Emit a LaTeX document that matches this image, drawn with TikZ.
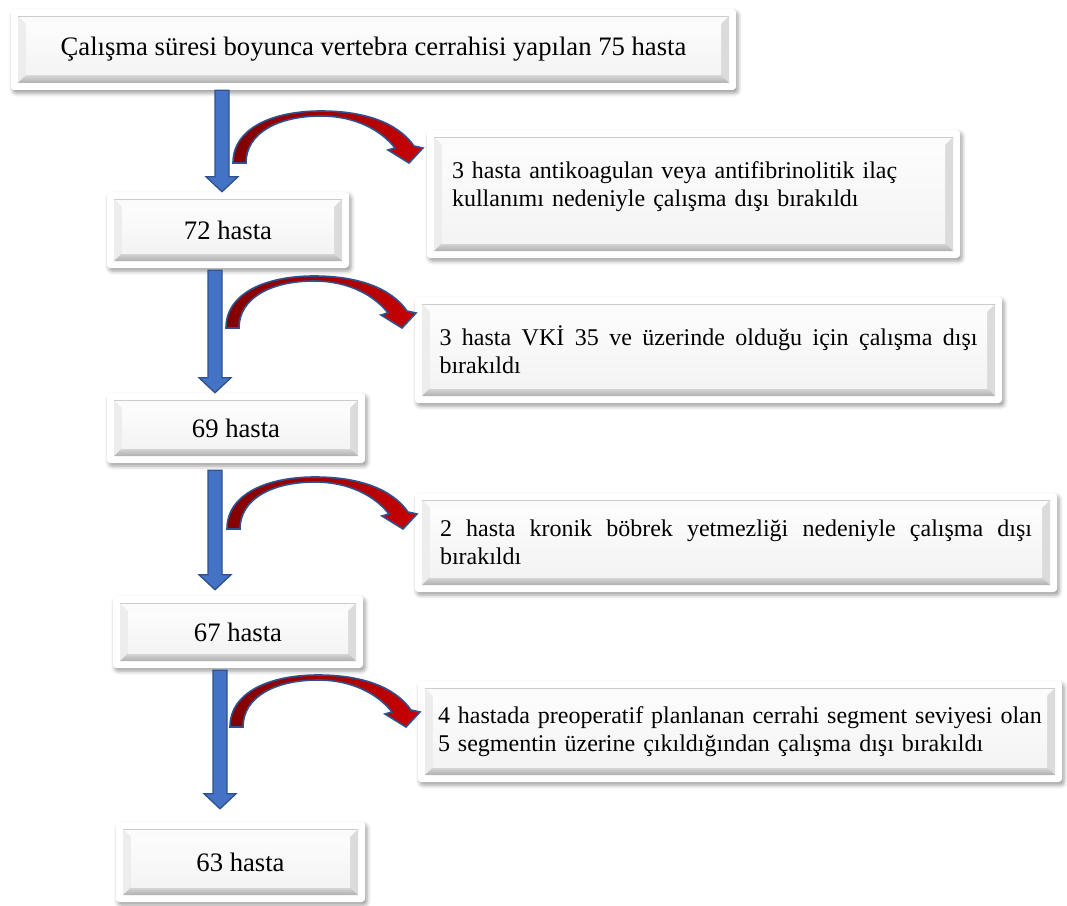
\documentclass[tikz,border=0pt]{standalone}
\usepackage{fontspec}
\setmainfont{Liberation Serif}
\usetikzlibrary{calc}
\usetikzlibrary{shadows.blur}
\usetikzlibrary{positioning}
\definecolor{bfill}{RGB}{68,114,196}
\definecolor{bborder}{RGB}{47,82,143}
\definecolor{rfill}{RGB}{200,0,0}
\definecolor{rdark}{RGB}{130,0,0}
\tikzset{panel/.style={rectangle,rounded corners=2.5pt,fill=white,inner sep=0pt,
  blur shadow={shadow xshift=1.5pt,shadow yshift=-2.25pt,shadow blur radius=3pt,shadow opacity=40},
  path picture={
    \coordinate (oNW) at ([shift={(5.25pt,-5.25pt)}]path picture bounding box.north west);
    \coordinate (oSE) at ([shift={(-5.25pt,5.25pt)}]path picture bounding box.south east);
    \coordinate (iNW) at ([shift={(6pt,-6pt)}]oNW);
    \coordinate (iSE) at ([shift={(-6pt,6pt)}]oSE);
    \fill[sharp corners,gray!3] (oNW) -- (oNW -| oSE) -- (iNW -| iSE) -- (iNW) -- cycle;
    \fill[sharp corners,gray!14] (oNW) -- (iNW) -- (iNW |- iSE) -- (oNW |- oSE) -- cycle;
    \fill[sharp corners,gray!28] (oSE) -- (oNW -| oSE) -- (iNW -| iSE) -- (iSE) -- cycle;
    \shade[sharp corners,top color=gray!30,bottom color=gray!62] (oNW |- oSE) -- (iNW |- iSE) -- (iSE) -- (oSE) -- cycle;
    \shade[sharp corners,top color=gray!2,bottom color=gray!9] (iNW) rectangle (iSE);
    \draw[sharp corners,gray!40,line width=0.5pt] (oNW) -- (oNW -| oSE);
  }}}
\tikzset{tally/.style={panel,font=\fontsize{20}{24}\selectfont}}
\tikzset{excl/.style={panel,font=\fontsize{18}{21}\selectfont,align=justify,inner xsep=18.75pt}}
\tikzset{bluearrow/.style={fill=bfill,draw=bborder,line width=1pt,
  to path={let \p1=(\tikztostart), \p2=(\tikztotarget) in
    (\x1-5.25pt,\y1) -- (\x1+5.25pt,\y1) -- (\x1+5.25pt,\y2+11.25pt) -- (\x1+12pt,\y2+11.25pt)
    -- (\x1,\y2) -- (\x1-12pt,\y2+11.25pt) -- (\x1-5.25pt,\y2+11.25pt) -- cycle}}}
\tikzset{swoop/.pic={
  \draw[bborder,line width=1.2pt,left color=rdark,right color=rfill]
    (0,0) -- (13,0) .. controls (13,-30) and (45,-47) .. (88,-47)
    .. controls (122,-47) and (148,-33) .. (162,-15) -- (155,-13) -- (176,0) -- (190,-15) -- (181,-17)
    .. controls (165,-40) and (132,-52) .. (88,-52) .. controls (40,-52) and (0,-35) .. (0,0) -- cycle;
  }}

\begin{document}
\begin{tikzpicture}[x=0.75pt,y=-0.75pt]
\useasboundingbox (0,0) rectangle (1067,906);

% left column
\node[tally, minimum width=543.75pt, minimum height=60.75pt] (n75) at (373.5,49.5) {Çalışma süresi boyunca vertebra cerrahisi yapılan 75 hasta};
\node[tally, minimum width=181.5pt, minimum height=57pt] (n72) at (228,230) {72 hasta};
\node[tally, minimum width=193.5pt, minimum height=52.5pt] (n69) at (236,428) {69 hasta};
\node[tally, minimum width=187.5pt, minimum height=54pt] (n67) at (238,632) {67 hasta};
\node[tally, minimum width=186.75pt, minimum height=60pt] (n63) at (240.5,862) {63 hasta};

% exclusions
\node[excl, align=left, text width=362.25pt, minimum width=399.75pt, minimum height=96pt] (x1) at (693.5,194)
  {3 hasta antikoagulan veya antifibrinolitik ilaç kullanımı nedeniyle çalışma dışı bırakıldı\\[-6pt]\mbox{}};
\node[excl, text width=403.5pt, inner xsep=18.375pt, minimum height=79.5pt] (x2) at (708.5,350)
  {3 hasta VKİ 35 ve üzerinde olduğu için çalışma dışı bırakıldı};
\node[excl, text width=444pt, minimum height=74.25pt] (x3) at (736,542.5)
  {2 hasta kronik böbrek yetmezliği nedeniyle çalışma dışı bırakıldı};
\node[excl, align=left, text width=453pt, inner xsep=15pt, minimum height=75.75pt] (x4) at (740,731.5)
  {4 hastada preoperatif planlanan cerrahi segment seviyesi olan 5 segmentin üzerine çıkıldığından çalışma dışı bırakıldı};

% down arrows
\coordinate (a1) at (222,0);
\coordinate (a2) at (215,0);
\coordinate (a3) at (215,0);
\coordinate (a4) at (220,0);
\draw[bluearrow] (n75.south -| a1) to (n72.north -| a1);
\draw[bluearrow] ($(n72.south -| a2)+(0,2)$) to (n69.north -| a2);
\draw[bluearrow] ($(n69.south -| a3)+(0,7)$) to ($(n67.north -| a3)+(0,-6)$);
\draw[bluearrow] ($(n67.south -| a4)+(0,2)$) to ($(n63.north -| a4)+(0,-13)$);

% side arrows
\pic at (233,163) {swoop};
\pic at (226,328) {swoop};
\pic at (227,529) {swoop};
\pic at (230,727) {swoop};
\end{tikzpicture}
\end{document}
